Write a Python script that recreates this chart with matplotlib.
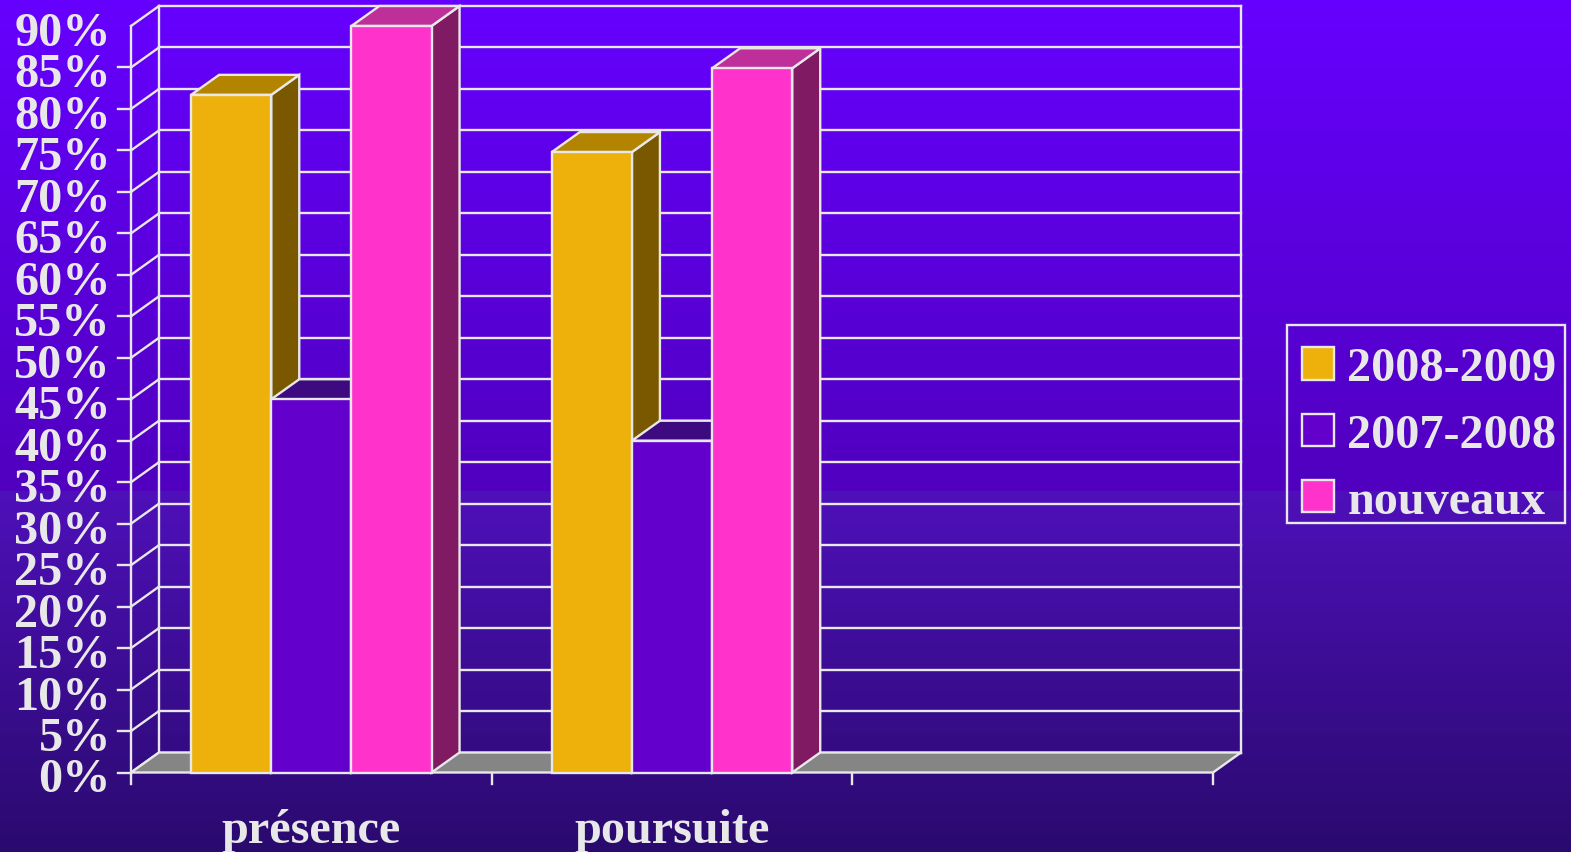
import numpy as np
import matplotlib
matplotlib.use("Agg")
import matplotlib.pyplot as plt
from matplotlib.patches import Patch, Rectangle
from matplotlib.transforms import ScaledTranslation

categories = ["présence", "poursuite", ""]
series_names = ["2008-2009", "2007-2008", "nouveaux"]
values_2008 = [81.7, 74.8]
values_2007 = [45, 40]
values_nouveaux = [90, 84.9]
tick_values = list(range(0, 95, 5))
tick_labels = [f"{v}%" for v in tick_values]

W, H = 1571, 853
LINE = "#E8E8E8"
FACE = ["#EEB00A", "#6300CC", "#FF33CC"]
SIDE = ["#7A5800", "#3D0A80", "#801A63"]
TOP = ["#B38400", "#3D0A80", "#BF2F99"]
FLOOR = "#858585"
LW = 1.7
FS = 48.3 * 0.72

plt.rcParams["font.family"] = ["Liberation Serif", "DejaVu Serif"]
plt.rcParams["font.weight"] = "bold"

fig = plt.figure(figsize=(W / 100, H / 100), dpi=100)

# background gradient
bg = fig.add_axes([0, 0, 1, 1], zorder=0)
bg.axis("off")
split = 492
top = np.linspace(0, 1, split)[:, None]
bot = np.linspace(0, 1, H - split)[:, None]
c = np.vstack([
    np.array([102, 0, 255]) * (1 - top) + np.array([80, 0, 190]) * top,
    np.array([78, 16, 185]) * (1 - bot) + np.array([42, 10, 110]) * bot,
])
bg.imshow(c[:, None, :].astype(np.uint8), aspect="auto")

# front plane of the chart
L, R, T, B = 131, 1213, 27, 773.5
ax = fig.add_axes([L / W, 1 - B / H, (R - L) / W, (B - T) / H], zorder=1)
ax.patch.set_alpha(0)
ax.set_xlim(0, 3)
ax.set_ylim(0, 90)
for s in ax.spines.values():
    s.set_visible(False)

dx = 28 * 3 / (R - L)
dy = 20 * 90 / (B - T)

# back wall and floor
for v in tick_values:
    ax.plot([dx, 3 + dx], [v + dy, v + dy], color=LINE, lw=LW, clip_on=False, zorder=2)
    ax.plot([0, dx], [v, v + dy], color=LINE, lw=LW, clip_on=False, zorder=2)
ax.plot([0, 0], [0, 90], color=LINE, lw=LW, clip_on=False, zorder=2)
ax.plot([dx, dx], [dy, 90 + dy], color=LINE, lw=LW, clip_on=False, zorder=2)
ax.plot([3 + dx, 3 + dx], [dy, 90 + dy], color=LINE, lw=LW, clip_on=False, zorder=2)
ax.fill([0, 3, 3 + dx, dx], [0, 0, dy, dy], facecolor=FLOOR, edgecolor=LINE, lw=LW,
        clip_on=False, zorder=2.5)

# bars
bw = 2 / 9
z = 3
for i, vals in enumerate([values_2008, values_2007, values_nouveaux]):
    for j, v in enumerate(vals):
        x0 = j + 1 / 6 + i * bw
        x1 = x0 + bw
        ax.fill([x1, x1 + dx, x1 + dx, x1], [0, dy, v + dy, v], facecolor=SIDE[i],
                edgecolor=LINE, lw=LW, clip_on=False, zorder=z + j * 10 + i)
        ax.fill([x0, x1, x1 + dx, x0 + dx], [v, v, v + dy, v + dy], facecolor=TOP[i],
                edgecolor=LINE, lw=LW, clip_on=False, zorder=z + j * 10 + i)
        ax.bar(x0, v, bw, align="edge", color=FACE[i], edgecolor=LINE, lw=LW,
               clip_on=False, zorder=z + j * 10 + i + 0.1)

# axes ticks and labels
ax.set_yticks(tick_values)
ax.set_yticklabels(tick_labels, fontsize=FS, fontweight="bold", color="#E8E8E8",
                   va="center")
ax.set_xticks([0, 1, 2, 3])
ax.set_xticklabels([])
ax.tick_params(axis="both", color=LINE, width=LW, length=0)
ax.tick_params(axis="y", pad=14.5)
shift = ScaledTranslation(0, -7 / 100, fig.dpi_scale_trans)
for lab in ax.get_yticklabels():
    lab.set_transform(lab.get_transform() + shift)
for v in tick_values[:-1]:
    ax.plot([-13 * 3 / (R - L), 0], [v, v], color=LINE, lw=LW, clip_on=False, zorder=2)
for xt in [0, 1, 2, 3]:
    ax.plot([xt, xt], [0, -11 * 90 / (B - T)], color=LINE, lw=LW, clip_on=False, zorder=2)
for k, cat in enumerate(categories):
    if cat:
        ax.annotate(cat, (k + 0.5, 0), xytext=(0, -(843 - B) * 0.72), textcoords="offset points",
                    ha="center", va="baseline", fontsize=FS, fontweight="bold", color="#E8E8E8",
                    annotation_clip=False)

handles = [Patch(facecolor=FACE[i], edgecolor=LINE, lw=LW) for i in range(3)]
leg = fig.legend(handles, series_names, loc="upper left",
                 bbox_to_anchor=(1287 / W, 1 - 332 / H), bbox_transform=fig.transFigure,
                 prop={"family": "Liberation Serif", "weight": "bold", "size": FS},
                 labelcolor="#E8E8E8", frameon=False, borderaxespad=0, borderpad=0.32,
                 labelspacing=0.46, handlelength=0.65, handleheight=0.65, handletextpad=0.28)
leg.set_zorder(5)
fig.add_artist(Rectangle((1287 / W, 1 - 524 / H), 278 / W, 198 / H, transform=fig.transFigure,
                         facecolor="none", edgecolor=LINE, lw=LW, zorder=5))

fig.savefig("out.png", dpi=100)
